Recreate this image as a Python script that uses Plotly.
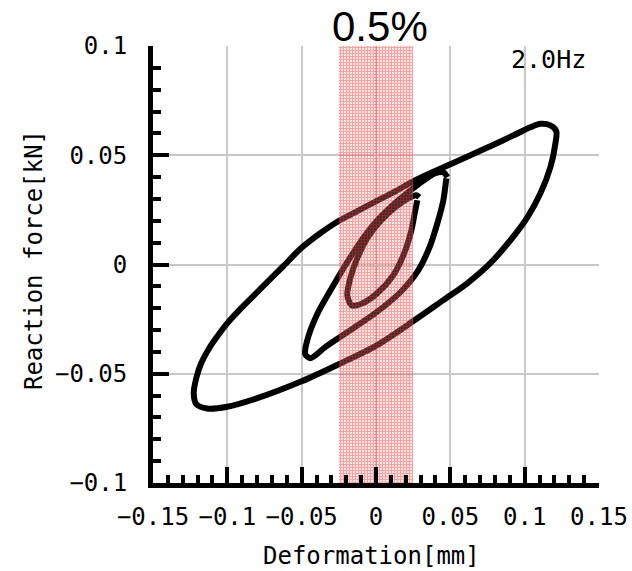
import plotly.graph_objects as go

# Hysteresis loops: deformation [mm] vs reaction force [kN] at 2.0 Hz
# outer loop: from the upper-right tip down the lower branch, back along the upper branch
large_x = [0.1213, 0.1207, 0.1173, 0.1106, 0.1018, 0.0904, 0.0769, 0.0614, 0.0453,
           0.0251, 0.0002, -0.0240, -0.0509, -0.0799, -0.1001, -0.1136, -0.1209,
           -0.1226, -0.1209, -0.1176, -0.1122, -0.1061, -0.0994, -0.0913, -0.0826,
           -0.0732, -0.0624, -0.0503, -0.0375, -0.0254, -0.0126, 0.0002, 0.0130,
           0.0251, 0.0379, 0.0500, 0.0635, 0.0769, 0.0924, 0.1038, 0.1106, 0.1173,
           0.1213]
large_y = [0.0610, 0.0555, 0.0445, 0.0326, 0.0216, 0.0111, 0.0006, -0.0086, -0.0163,
           -0.0259, -0.0371, -0.0453, -0.0537, -0.0612, -0.0651, -0.0659, -0.0639,
           -0.0590, -0.0520, -0.0452, -0.0383, -0.0323, -0.0264, -0.0204, -0.0145,
           -0.0081, -0.0008, 0.0075, 0.0143, 0.0198, 0.0244, 0.0290, 0.0335,
           0.0381, 0.0422, 0.0459, 0.0500, 0.0541, 0.0591, 0.0628, 0.0644, 0.0637,
           0.0610]

mid_x = [0.0473, 0.0453, 0.0419, 0.0365, 0.0285, 0.0164, -0.0005, -0.0173, -0.0341,
         -0.0442, -0.0476, -0.0462, -0.0395, -0.0294, -0.0193, -0.0092, 0.0015,
         0.0150, 0.0285, 0.0399, 0.0453, 0.0480]
mid_y = [0.0394, 0.0294, 0.0203, 0.0088, -0.0026, -0.0127, -0.0223, -0.0301, -0.0378,
         -0.0429, -0.0410, -0.0346, -0.0227, -0.0104, 0.0011, 0.0116, 0.0207,
         0.0294, 0.0367, 0.0418, 0.0422, 0.0399]

small_x = [0.0278, 0.0264, 0.0238, 0.0190, 0.0116, 0.0009, -0.0106, -0.0166, -0.0193,
           -0.0173, -0.0126, -0.0059, 0.0029, 0.0130, 0.0217, 0.0271, 0.0291]
small_y = [0.0294, 0.0248, 0.0157, 0.0052, -0.0049, -0.0131, -0.0182, -0.0186, -0.0140,
           -0.0063, 0.0029, 0.0120, 0.0198, 0.0262, 0.0303, 0.0317, 0.0308]

# 0.5% strain band
band_lo, band_hi = -0.025, 0.025

x_ticks = [-0.15, -0.1, -0.05, 0, 0.05, 0.1, 0.15]
x_ticktext = ["−0.15", "−0.1", "−0.05", "0", "0.05", "0.1", "0.15"]
y_ticks = [-0.1, -0.05, 0, 0.05, 0.1]
y_ticktext = ["−0.1", "−0.05", "0", "0.05", "0.1"]

mono = "DejaVu Sans Mono"

fig = go.Figure()
for xs, ys in [(large_x, large_y), (mid_x, mid_y), (small_x, small_y)]:
    fig.add_trace(go.Scatter(
        x=xs, y=ys, mode="lines",
        line=dict(color="black", width=6, shape="spline", smoothing=0.8),
        showlegend=False, hoverinfo="skip",
    ))

# textured red band laid over the loops
fig.add_trace(go.Scatter(
    x=[band_lo, band_hi, band_hi, band_lo, band_lo],
    y=[-0.1, -0.1, 0.1, 0.1, -0.1],
    mode="lines", line=dict(width=0), fill="toself",
    fillpattern=dict(shape="+", fgcolor="rgba(255,30,30,0.75)",
                     bgcolor="rgba(255,170,170,0.25)",
                     size=3, solidity=0.55),
    showlegend=False, hoverinfo="skip",
))

axis_common = dict(
    automargin=False,
    showline=True, linecolor="black", linewidth=5,
    ticks="inside", ticklen=16, tickwidth=4, tickcolor="black",
    showgrid=True, gridcolor="#c8c8c8", gridwidth=1.5,
    zeroline=False,
    tickfont=dict(family=mono, size=24, color="black"),
)

fig.update_xaxes(
    range=[-0.15, 0.15], tickmode="array", tickvals=x_ticks, ticktext=x_ticktext,
    minor=dict(tick0=0, dtick=0.01, ticks="inside", ticklen=8, tickwidth=4,
               tickcolor="black", showgrid=False),
    ticklabelstandoff=8,
    **axis_common,
)
fig.update_yaxes(
    range=[-0.1, 0.1], tickmode="array", tickvals=y_ticks, ticktext=y_ticktext,
    minor=dict(tick0=0, dtick=0.01, ticks="inside", ticklen=8, tickwidth=4,
               tickcolor="black", showgrid=False),
    ticklabelstandoff=16,
    **axis_common,
)

fig.update_layout(
    width=632, height=571,
    margin=dict(l=153, r=33, t=46, b=88),
    paper_bgcolor="white", plot_bgcolor="white",
    annotations=[
        dict(text="0.5%", x=0.003, xref="x", y=1, yref="paper", yanchor="bottom",
             yshift=-6, showarrow=False,
             font=dict(family="Liberation Sans", size=42, color="black")),
        dict(text="2.0Hz", x=0.1425, xref="x", y=0.094, yref="y",
             xanchor="right", yanchor="middle", showarrow=False,
             font=dict(family=mono, size=25, color="black")),
        dict(text="Deformation[mm]", x=0.49, xref="paper", y=-0.167, yref="paper",
             xanchor="center", yanchor="middle", showarrow=False,
             font=dict(family=mono, size=24, color="black")),
        dict(text="Reaction force[kN]", x=-0.267, xref="paper", y=0.51, yref="paper",
             xanchor="center", yanchor="middle", textangle=-90, showarrow=False,
             font=dict(family=mono, size=24, color="black")),
    ],
)

fig.write_html("out.html")
